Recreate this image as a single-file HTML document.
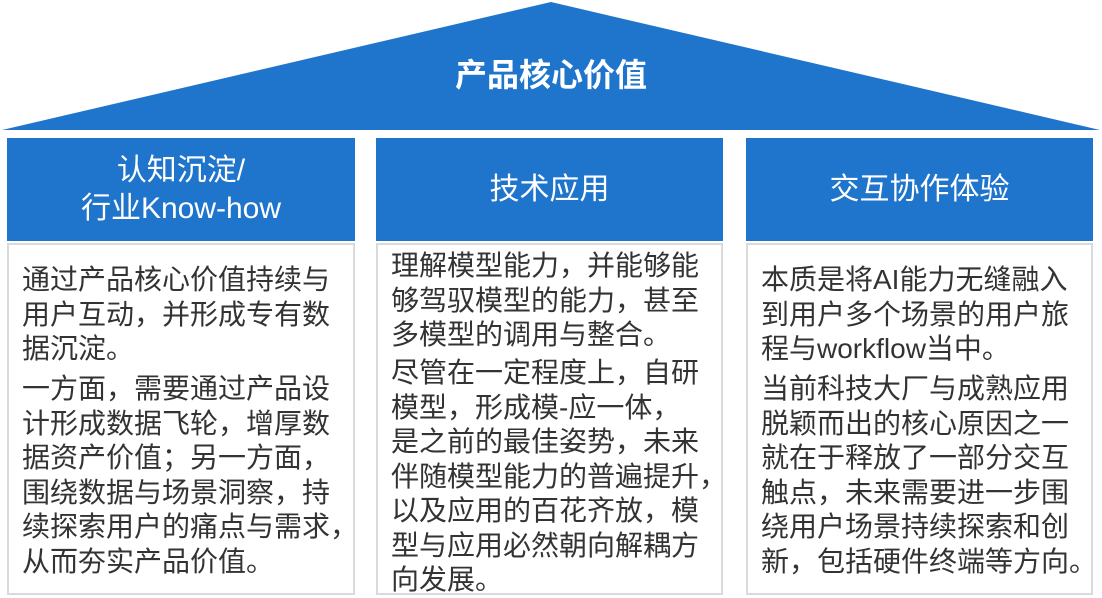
<!DOCTYPE html>
<html><head><meta charset="utf-8"><style>
body{margin:0;width:1102px;height:598px;background:#fff;position:relative;overflow:hidden;font-family:"Liberation Sans","Noto Sans CJK SC",sans-serif}
.h{position:absolute;background:#1f74cc;color:#fff;font-size:30px;text-align:center;display:flex;align-items:center;justify-content:center;line-height:38px}
.b{position:absolute;border:2px solid #dadada;box-sizing:border-box}
.t{position:absolute;color:#333;font-size:28px;line-height:34.5px;white-space:nowrap}
</style></head><body>
<svg width="1102" height="135" style="position:absolute;left:0;top:0">
<polygon points="551,2 1100,130 2,130" fill="#1f74cc"/>
</svg>
<div style="position:absolute;left:0;width:1102px;top:56px;text-align:center;color:#fff;font-size:32px;font-weight:bold;line-height:38px">产品核心价值</div>

<div class="h" style="left:7px;top:138px;width:348px;height:103px">认知沉淀/<br>行业Know-how</div>
<div class="h" style="left:376px;top:138px;width:347px;height:103px">技术应用</div>
<div class="h" style="left:746px;top:138px;width:347px;height:103px">交互协作体验</div>

<div class="b" style="left:7px;top:243px;width:348px;height:352px"></div>
<div class="b" style="left:376px;top:243px;width:347px;height:352px"></div>
<div class="b" style="left:746px;top:243px;width:347px;height:352px"></div>

<div class="t" style="left:22px;top:263px">通过产品核心价值持续与<br>用户互动，并形成专有数<br>据沉淀。</div>
<div class="t" style="left:22px;top:372px">一方面，需要通过产品设<br>计形成数据飞轮，增厚数<br>据资产价值；另一方面，<br>围绕数据与场景洞察，持<br>续探索用户的痛点与需求，<br>从而夯实产品价值。</div>

<div class="t" style="left:391px;top:249px">理解模型能力，并能够能<br>够驾驭模型的能力，甚至<br>多模型的调用与整合。</div>
<div class="t" style="left:391px;top:356px">尽管在一定程度上，自研<br>模型，形成模-应一体，<br>是之前的最佳姿势，未来<br>伴随模型能力的普遍提升，<br>以及应用的百花齐放，模<br>型与应用必然朝向解耦方<br>向发展。</div>

<div class="t" style="left:761px;top:263px">本质是将AI能力无缝融入<br>到用户多个场景的用户旅<br>程与workflow当中。</div>
<div class="t" style="left:761px;top:372px">当前科技大厂与成熟应用<br>脱颖而出的核心原因之一<br>就在于释放了一部分交互<br>触点，未来需要进一步围<br>绕用户场景持续探索和创<br>新，包括硬件终端等方向。</div>
</body></html>
